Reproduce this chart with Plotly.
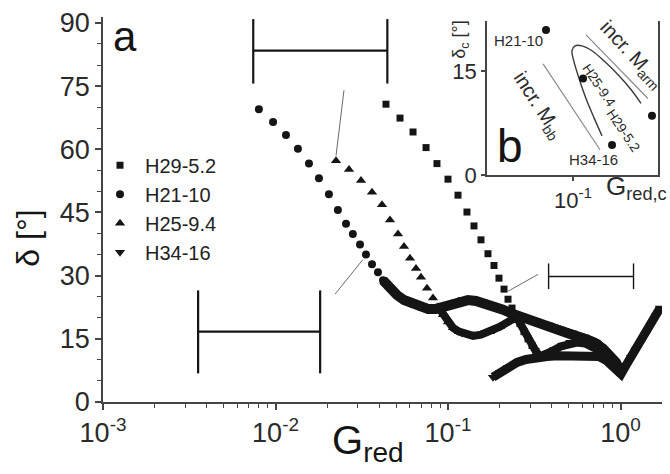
import plotly.graph_objects as go

FONT = "Liberation Sans, Arial, Helvetica, sans-serif"
INK = "#151515"
AXIS = "#454545"
GUIDE = "#8a8a8a"

# ---------------- panel a: phase angle vs reduced modulus ----------------
# each sample: a sparse high-delta branch and a dense low-delta band
h29_g_sparse = [0.0437, 0.0527, 0.0627, 0.0746, 0.0863, 0.1000, 0.1143, 0.1288,
                0.1415, 0.1553, 0.1705, 0.1848, 0.1975, 0.2112, 0.2228, 0.2350]
h29_d_sparse = [70.7, 67.4, 64.1, 60.4, 56.6, 52.9, 49.1, 45.1,
                41.8, 38.5, 35.2, 32.4, 29.4, 26.8, 24.4, 22.3]
h29_g_band = [0.2478, 0.2614, 0.2758, 0.2909, 0.3069, 0.3237, 0.3414, 0.3699,
              0.4062, 0.4519, 0.5028, 0.5596, 0.6224, 0.6929, 0.7708, 0.8463,
              0.9170, 0.9933]
h29_d_band = [20.4, 18.6, 16.7, 15.0, 13.4, 12.0, 10.8, 11.3,
              12.2, 13.2, 13.9, 14.1, 13.9, 13.2, 12.0, 10.6,
              8.9, 7.3]

h21_g_sparse = [0.00801, 0.00968, 0.0115, 0.01349, 0.01563, 0.01786, 0.0204,
                0.0230, 0.02563, 0.02808, 0.0309, 0.03346, 0.03626, 0.03927]
h21_d_sparse = [69.5, 66.5, 63.4, 60.1, 56.6, 53.1, 49.3,
                45.6, 42.3, 39.9, 37.4, 35.0, 32.7, 30.8]
h21_g_band = [0.0420, 0.0461, 0.0506, 0.0556, 0.0618, 0.0688, 0.0766, 0.0852,
              0.0948, 0.1055, 0.1174, 0.1306, 0.1453, 0.1639, 0.1848, 0.2084,
              0.2381, 0.2758, 0.3193, 0.3749, 0.4400, 0.5164, 0.6063, 0.7022,
              0.7918, 0.8693, 0.9417, 0.9933]
h21_d_band = [28.9, 27.0, 25.4, 24.2, 23.3, 22.6, 22.1, 22.1,
              22.6, 23.3, 24.0, 24.2, 24.0, 23.5, 22.8, 21.9,
              20.9, 20.0, 19.0, 18.1, 17.2, 16.2, 15.3, 14.1,
              12.7, 11.0, 9.4, 7.5]

h25_g_sparse = [0.02243, 0.02668, 0.03131, 0.03626, 0.04143, 0.04611, 0.05130,
                0.05558, 0.06020, 0.06524, 0.06973, 0.07554, 0.08185]
h25_d_sparse = [57.3, 55.2, 52.6, 49.8, 46.8, 43.2, 39.9,
                36.9, 34.1, 31.7, 29.6, 27.0, 24.7]
h25_g_band = [0.0875, 0.0935, 0.1000, 0.1069, 0.1158, 0.1271, 0.1396, 0.1553,
              0.1752, 0.2002, 0.2288, 0.2545, 0.2909, 0.3414, 0.4008, 0.4705,
              0.5521, 0.6479, 0.7407, 0.8240, 0.9048, 0.9802]
h25_d_band = [22.6, 20.7, 19.0, 17.6, 16.7, 16.0, 15.7, 16.0,
              16.7, 17.9, 19.3, 20.2, 19.7, 18.8, 17.9, 16.9,
              16.0, 15.0, 13.9, 12.2, 10.3, 8.2]

h34_g_sparse = []
h34_d_sparse = []
h34_g_band = [0.1824, 0.2002, 0.2228, 0.2512, 0.2834, 0.3237, 0.3750, 0.4342,
              0.5028, 0.5824, 0.6655, 0.7504, 0.8240, 0.8928, 0.9672, 1.0067,
              1.0762, 1.1506, 1.2300, 1.3148, 1.4054, 1.5025, 1.6063, 1.6943]
h34_d_band = [5.9, 7.0, 8.2, 9.4, 10.1, 10.6, 10.8, 11.0,
              11.0, 11.3, 11.3, 10.8, 9.9, 8.5, 7.0, 6.6,
              8.7, 10.6, 12.4, 14.3, 16.2, 18.3, 20.4, 22.3]

sample_names = ["H29-5.2", "H21-10", "H25-9.4", "H34-16"]
sample_symbols = ["square", "circle", "triangle-up", "triangle-down"]
sample_sizes = [7, 8, 9, 9]
band_widths = [8, 10, 8, 9]

# horizontal shift bars (left end, right end, level, cap bottom, cap top)
bar_left = [0.00743, 0.00356, 0.383]
bar_right = [0.0445, 0.01815, 1.19]
bar_level = [83.4, 16.7, 29.8]
bar_low = [75.6, 6.8, 26.8]
bar_high = [90.9, 26.5, 32.9]

# thin leader lines from each bar to its curve
lead_g0 = [0.02494, 0.02213, 0.3327]
lead_d0 = [74.0, 25.6, 30.3]
lead_g1 = [0.02244, 0.0321, 0.2229]
lead_d1 = [58.5, 33.8, 26.3]

# ---------------- panel b: crossover coordinates ----------------
inset_names = ["H21-10", "H25-9.4", "H29-5.2", "H34-16"]
inset_g = [0.0787, 0.1093, 0.2013, 0.1413]
inset_d = [21.0, 14.0, 8.6, 4.4]

arm_line_g = [0.1122, 0.1942]
arm_line_d = [20.3, 11.1]
bb_line_g = [0.0767, 0.1270]
bb_line_d = [16.1, 3.7]
loop_g = [0.1293, 0.1205, 0.1122, 0.1055, 0.1009, 0.0991, 0.1018, 0.1083,
          0.1183, 0.1327, 0.1503, 0.1671, 0.1826]
loop_d = [5.7, 8.3, 11.1, 14.0, 16.4, 18.0, 18.7, 18.7,
          18.0, 16.4, 14.4, 12.4, 10.4]

fig = go.Figure()

series = [
    (h29_g_sparse, h29_d_sparse, h29_g_band, h29_d_band),
    (h21_g_sparse, h21_d_sparse, h21_g_band, h21_d_band),
    (h25_g_sparse, h25_d_sparse, h25_g_band, h25_d_band),
    (h34_g_sparse, h34_d_sparse, h34_g_band, h34_d_band),
]

# dense bands drawn as thick strokes under the markers
for (gs, ds, gb, db), width in zip(series, band_widths):
    fig.add_trace(go.Scatter(x=gb, y=db, mode="lines",
                             line=dict(color=INK, width=width),
                             showlegend=False, hoverinfo="skip"))

for (gs, ds, gb, db), name, sym, size in zip(series, sample_names,
                                             sample_symbols, sample_sizes):
    fig.add_trace(go.Scatter(x=gs + gb, y=ds + db, mode="markers", name=name,
                             marker=dict(symbol=sym, size=size, color=INK,
                                         line=dict(width=0))))

bar_widths = [2.2, 2.2, 1.4]
for xl, xr, yl, lo, hi, w in zip(bar_left, bar_right, bar_level, bar_low,
                                 bar_high, bar_widths):
    fig.add_trace(go.Scatter(x=[xl, xl, None, xl, xr, None, xr, xr],
                             y=[lo, hi, None, yl, yl, None, lo, hi],
                             mode="lines", line=dict(color=INK, width=w),
                             showlegend=False, hoverinfo="skip"))

for g0, d0, g1, d1 in zip(lead_g0, lead_d0, lead_g1, lead_d1):
    fig.add_trace(go.Scatter(x=[g0, g1], y=[d0, d1], mode="lines",
                             line=dict(color="#6a6a6a", width=1),
                             showlegend=False, hoverinfo="skip"))

# inset traces
fig.add_trace(go.Scatter(x=arm_line_g, y=arm_line_d, mode="lines",
                         line=dict(color=GUIDE, width=1.2), xaxis="x2",
                         yaxis="y2", showlegend=False, hoverinfo="skip"))
fig.add_trace(go.Scatter(x=bb_line_g, y=bb_line_d, mode="lines",
                         line=dict(color=GUIDE, width=1.2), xaxis="x2",
                         yaxis="y2", showlegend=False, hoverinfo="skip"))
fig.add_trace(go.Scatter(x=loop_g, y=loop_d, mode="lines",
                         line=dict(color="#3a3a3a", width=1.4, shape="spline"),
                         xaxis="x2", yaxis="y2", showlegend=False,
                         hoverinfo="skip"))
fig.add_trace(go.Scatter(x=inset_g, y=inset_d, mode="markers",
                         marker=dict(symbol="circle", size=8, color=INK),
                         xaxis="x2", yaxis="y2", showlegend=False,
                         hoverinfo="skip"))

# pixel -> paper helpers for the plot area (103..662 x 13..402)
L, R, T, B = 103, 662, 13, 402


def px(x):
    return (x - L) / (R - L)


def py(y):
    return (B - y) / (B - T)


def label(text, x, y, size, angle=0, color=INK):
    fig.add_annotation(text=text, x=px(x), y=py(y), xref="paper",
                       yref="paper", showarrow=False, textangle=angle,
                       font=dict(family=FONT, size=size, color=color),
                       xanchor="center", yanchor="middle")


label("a", 125, 33, 42)
label("δ [°]", 28, 237, 32, -90)
label("G<sub>red</sub>", 368, 443, 40)

# inset labels
label("b", 510, 143, 46)
label("H21-10", 518, 37, 15, color="#2a2a2a")
label("H25-9.4", 599, 82, 13.5, 56, color="#2a2a2a")
label("H29-5.2", 623, 128, 13.5, 56, color="#2a2a2a")
label("H34-16", 593, 157, 15, color="#2a2a2a")
label("incr. M<sub>arm</sub>", 631, 51, 20, 47, color="#2a2a2a")
label("incr. M<sub>bb</sub>", 538, 102, 20, 57, color="#2a2a2a")
label("δ<sub>c</sub> [°]", 461, 36, 18, -90, color="#2a2a2a")
label("G<sub>red,c</sub>", 636, 185, 26, color="#2a2a2a")

decades = [0.001, 0.01, 0.1, 1]
decade_text = ["10<sup>-3</sup>", "10<sup>-2</sup>", "10<sup>-1</sup>",
               "10<sup>0</sup>"]
minor_vals = [d * k for d in decades for k in range(2, 10)]

axis_common = dict(showline=True, linecolor=AXIS, linewidth=1.5,
                   ticks="outside", tickcolor=AXIS, tickwidth=1.5,
                   showgrid=False, zeroline=False)

fig.update_layout(
    width=670, height=474,
    margin=dict(l=L, r=670 - R, t=T, b=474 - B),
    paper_bgcolor="white", plot_bgcolor="white",
    font=dict(family=FONT, color=INK),
    showlegend=True,
    legend=dict(x=px(95), y=py(143), xanchor="left", yanchor="top",
                font=dict(family=FONT, size=20, color="#222222"),
                bgcolor="rgba(0,0,0,0)", tracegroupgap=0, itemwidth=40),
    xaxis=dict(type="log", range=[-3, 0.2406], domain=[0, 1], anchor="y",
               tickvals=decades, ticktext=decade_text, ticklen=6,
               tickfont=dict(size=27, color="#2a2a2a"),
               minor=dict(tickvals=minor_vals, ticks="outside", ticklen=4,
                          tickcolor=AXIS, tickwidth=1),
               **axis_common),
    yaxis=dict(range=[0, 91.4], domain=[0, 1], anchor="x",
               tickvals=list(range(0, 91, 15)), ticklen=6,
               tickfont=dict(size=27, color="#2a2a2a"),
               minor=dict(dtick=5, ticks="outside", ticklen=4,
                          tickcolor=AXIS, tickwidth=1),
               **axis_common),
    xaxis2=dict(type="log", range=[-1.331, -0.673],
                domain=[px(487), px(658)], anchor="y2",
                tickvals=[0.1], ticktext=["10<sup>-1</sup>"], ticklen=4,
                tickfont=dict(size=22, color="#2a2a2a"),
                **axis_common),
    yaxis2=dict(range=[0, 22.3], domain=[py(173), py(17)], anchor="x2",
                tickvals=[0, 15], ticklen=4, mirror=True,
                tickfont=dict(size=22, color="#2a2a2a"),
                **axis_common),
)

fig.write_html("out.html")
